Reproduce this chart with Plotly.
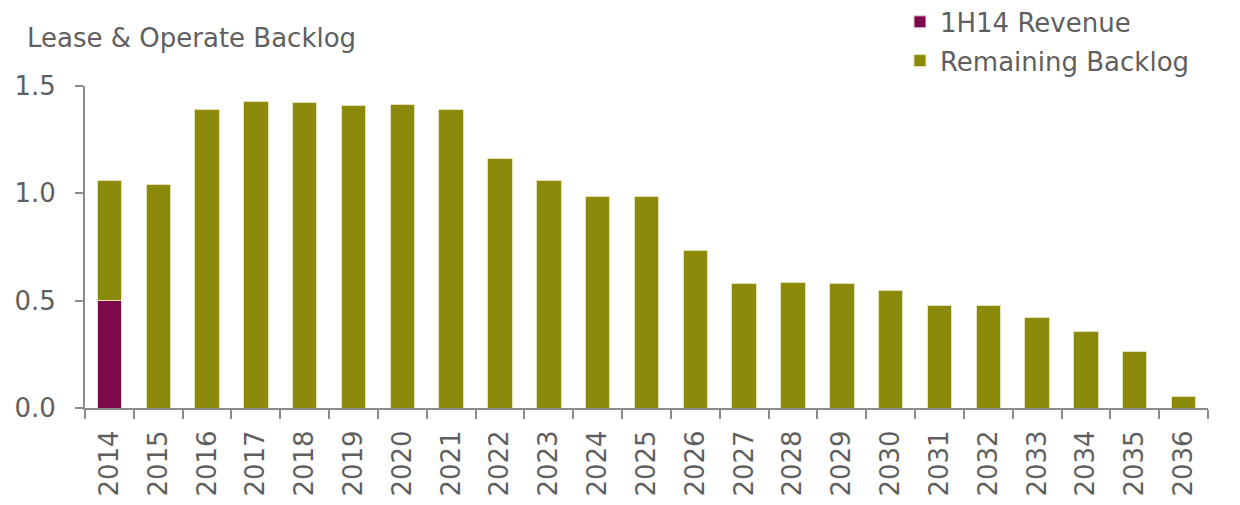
import plotly.graph_objects as go

years = [str(y) for y in range(2014, 2037)]
revenue_1h14 = [0.503] + [0] * 22
remaining = [0.559, 1.043, 1.391, 1.428, 1.425, 1.410, 1.413, 1.391, 1.161, 1.062,
             0.983, 0.983, 0.736, 0.582, 0.585, 0.580, 0.546, 0.476, 0.477, 0.421,
             0.356, 0.265, 0.055]
y_ticks = [0.0, 0.5, 1.0, 1.5]

FONT = "DejaVu Sans"
TXT = "#5f5f5f"
AX = "#8c8c8c"
FS = 26

fig = go.Figure()
fig.add_trace(go.Bar(x=years, y=revenue_1h14, name="1H14 Revenue", legendgroup="a",
                     marker=dict(color="#7b0a4a", line=dict(color="#e8d0dc", width=1)),
                     width=0.5))
fig.add_trace(go.Bar(x=years, y=remaining, name="Remaining Backlog", legendgroup="b",
                     marker=dict(color="#8b8a0a", line=dict(color="#e4e2b8", width=1)),
                     width=0.5))

fig.update_layout(
    barmode="stack",
    width=1240, height=505,
    plot_bgcolor="white", paper_bgcolor="white",
    margin=dict(l=77, r=40, t=78, b=105, autoexpand=False),
    font=dict(family=FONT, size=FS, color=TXT),
    showlegend=True,
    legend=dict(x=0.7257, xref="paper", y=1.272, yref="paper", yanchor="top", xanchor="left",
                traceorder="grouped", tracegroupgap=2,
                font=dict(family=FONT, size=FS, color=TXT), bgcolor="rgba(0,0,0,0)"),
)
fig.add_annotation(text="Lease & Operate Backlog", xref="paper", yref="paper",
                   x=-0.0534, y=1.149, xanchor="left", yanchor="middle", showarrow=False,
                   font=dict(family=FONT, size=FS, color=TXT))

fig.update_xaxes(type="category", tickangle=-90, showline=True, linecolor=AX, linewidth=2,
                 ticks="outside", tickson="boundaries", ticklen=9, tickcolor=AX, tickwidth=2,
                 showgrid=False, automargin=False, ticklabelstandoff=10,
                 tickfont=dict(family=FONT, size=FS, color=TXT))
fig.update_yaxes(range=[0, 1.5], tickvals=y_ticks, tickformat=".1f", showline=True,
                 linecolor=AX, linewidth=2, ticks="outside", ticklen=8, tickcolor=AX,
                 tickwidth=2, showgrid=False, zeroline=False, automargin=False,
                 ticklabelstandoff=14,
                 tickfont=dict(family=FONT, size=FS, color=TXT))

fig.write_html("out.html")
